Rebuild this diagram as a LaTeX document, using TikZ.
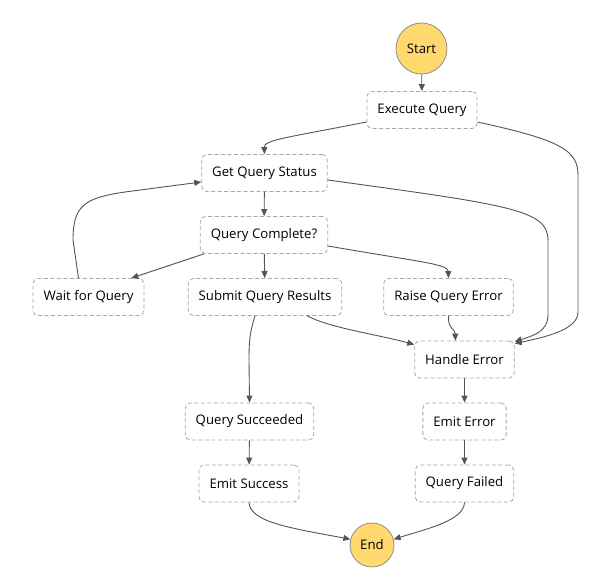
\documentclass[tikz,border=0pt]{standalone}
\usepackage{fontspec}
\setmainfont{Open Sans}
\definecolor{dnvang}{HTML}{FFD96E}
\definecolor{dnvien}{HTML}{8C8C8C}
\definecolor{dnxam}{HTML}{A6A6A6}
\definecolor{dnxamdam}{HTML}{555555}
\def\maunut{dnvang}
\def\mauhop{dnxam}
\def\mauduong{dnxamdam}
\usetikzlibrary{shapes,calc,arrows.meta}
\begin{document}
\begin{tikzpicture}[x=1pt,y=-1pt,
	hop/.style={draw=\mauhop,dash pattern=on 4pt off 2.5pt,rounded corners=5pt,line width=0.8pt,minimum height=37pt,inner xsep=10.5pt,font=\fontsize{13.2}{15}\selectfont},
	tron/.style={circle,draw=dnvien,fill=\maunut,inner sep=0pt,line width=0.8pt,font=\fontsize{13.2}{15}\selectfont},
	noi/.style={draw=\mauduong,line width=0.9pt,-{Triangle[length=7pt,width=6pt]}}]
		\useasboundingbox (0,0) rectangle (600,579);
		\path (421.5,48.5) node[tron,minimum size=51pt] (st) {Start}
		(422,110) node[hop] (exq) {Execute Query}
		(264.5,173) node[hop] (gqs) {Get Query Status}
		(264,235) node[hop] (qc) {Query Complete?}
		(88.5,297) node[hop] (wfq) {Wait for Query}
		(265,297) node[hop] (sqr) {Submit Query Results}
		(448.5,297) node[hop] (rqe) {Raise Query Error}
		(464.5,359.5) node[hop] (he) {Handle Error}
		(249.5,421.5) node[hop] (qs) {Query Succeeded}
		(464.5,421.5) node[hop] (ee) {Emit Error}
		(249,483.5) node[hop] (es) {Emit Success}
		(464.5,483.5) node[hop] (qf) {Query Failed}
		(372,545) node[tron,minimum size=44pt] (en) {End}
		;
		\path[noi] (st) -- (exq);
		\path[noi] ([yshift=-12pt]exq.west) .. controls (285,138) and (264,140) .. (gqs.north);
		\path[noi] ([yshift=-12pt]exq.east) .. controls (560,140) and (578,150) .. (578,175) -- (578,312) .. controls (578,330) and (545,337) .. ([yshift=-3pt]he.north east);
		\path[noi] (gqs) -- (qc);
		\path[noi] ([yshift=-7pt]gqs.east) .. controls (510,205) and (548,210) .. (548,240) -- (548,315) .. controls (548,332) and (532,336) .. ([yshift=-1pt]he.north east);
		\path[noi] ([xshift=4pt]qc.south west) -- ([xshift=-13pt]wfq.north east);
		\path[noi] (qc) -- (sqr);
		\path[noi] ([yshift=-11pt]qc.east) .. controls (420,262) and (448,264) .. (rqe.north);
		\path[noi] ([xshift=-10pt]wfq.north) -- (73,240) .. controls (73,205) and (85,198) .. (125,192) -- ([yshift=-9pt]gqs.west);
		\path[noi] ([xshift=-10pt]sqr.south) .. controls (250,332) and (249,340) .. (249,360) -- (qs.north);
		\path[noi] ([xshift=-35pt]sqr.south east) .. controls (330,328) and (380,335) .. ([yshift=-4pt]he.north west);
		\path[noi] (rqe.south) .. controls (448,330) and (455,328) .. ([xshift=-9pt]he.north);
		\path[noi] (he) -- (ee);
		\path[noi] (qs) -- (es);
		\path[noi] (ee) -- (qf);
		\path[noi] (es.south) .. controls (250,522) and (290,528) .. (en.165);
		\path[noi] (qf.south) .. controls (464,520) and (430,528) .. (en.15);
	\end{tikzpicture}
\end{document}
